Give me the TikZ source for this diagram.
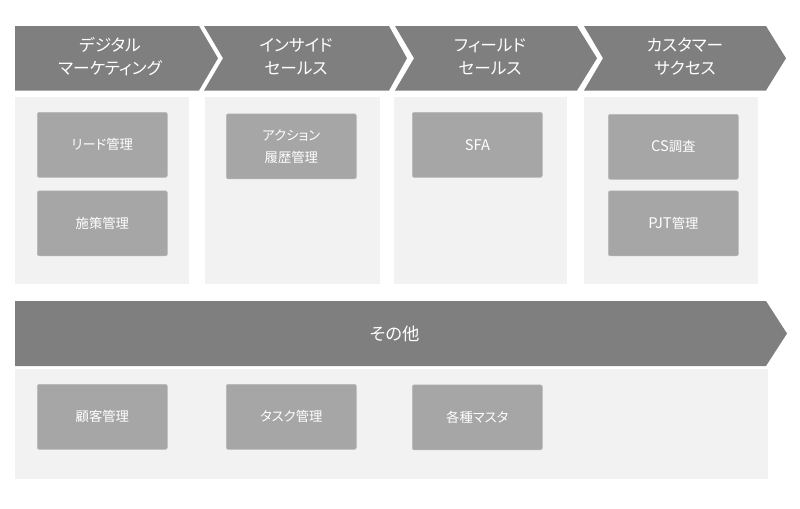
\documentclass[tikz,border=0pt]{standalone}
\usepackage{fontspec}
\setmainfont[RawFeature=+palt]{Noto Sans CJK JP}
\definecolor{chevgray}{HTML}{7F7F7F}
\definecolor{panelgray}{HTML}{F2F2F2}
\definecolor{boxgray}{HTML}{A6A6A6}
\definecolor{boxedge}{HTML}{B8B8B8}
\newcommand\latn[1]{{\fontsize{11pt}{16.5pt}\selectfont #1}}
\begin{document}
\begin{tikzpicture}[x=0.75pt,y=-0.75pt,
  chev/.style={fill=chevgray,draw=none},
  panel/.style={fill=panelgray,draw=none},
  itembox/.style={fill=boxgray,draw=boxedge,line width=0.5pt,rounded corners=1.5pt,
    minimum width=97.5pt,minimum height=48.75pt,inner sep=0pt,anchor=north west,
    text=white,align=center,font=\fontsize{10pt}{16.5pt}\selectfont},
  chevtext/.style={text=white,align=center,font=\fontsize{12.5pt}{17.25pt}\selectfont,inner sep=0pt},
]
\useasboundingbox (0,0) rectangle (800,508);
% chevrons
\fill[chev] (15,26) -- (199,26) -- (218,58.25) -- (199,90.5) -- (15,90.5) -- cycle;
\fill[chev] (204,26) -- (389,26) -- (407,58.25) -- (389,90.5) -- (204,90.5) -- (223,58.25) -- cycle;
\fill[chev] (395,26) -- (577,26) -- (597,58.25) -- (577,90.5) -- (395,90.5) -- (414,58.25) -- cycle;
\fill[chev] (584,26) -- (766,26) -- (786,58.25) -- (766,90.5) -- (584,90.5) -- (603,58.25) -- cycle;
\node[chevtext] (c1) at (110,57) {デジタル\\マーケティング};
\node[chevtext] (c2) at (296,57) {インサイド\\セールス};
\node[chevtext] (c3) at (490,57) {フィールド\\セールス};
\node[chevtext] (c4) at (685,57) {カスタマー\\サクセス};
% panels
\fill[panel] (15,97) rectangle (189,284);
\fill[panel] (205,97) rectangle (380,284);
\fill[panel] (394,97) rectangle (567,284);
\fill[panel] (584,97) rectangle (758,284);
% boxes
\node[itembox] (b11) at (37,112) {リード管理};
\node[itembox] (b12) at (37,190.5) {施策管理};
\node[itembox] (b21) at (226,113.5) {アクション\\履歴管理};
\node[itembox] (b31) at (412,112) {\latn{SFA}};
\node[itembox] (b41) at (608,114) {\latn{CS}調査};
\node[itembox] (b42) at (608,190.5) {\latn{PJT}管理};
% other
\fill[chev] (15,301) -- (766,301) -- (787,333.5) -- (766,366) -- (15,366) -- cycle;
\node[chevtext,font=\fontsize{13pt}{15pt}\selectfont] (c5) at (395,333.5) {その他};
\fill[panel] (15,369) rectangle (768,479);
\node[itembox] (b51) at (37,384) {顧客管理};
\node[itembox] (b52) at (226,384) {タスク管理};
\node[itembox] (b53) at (412,384.5) {各種マスタ};
\end{tikzpicture}
\end{document}
